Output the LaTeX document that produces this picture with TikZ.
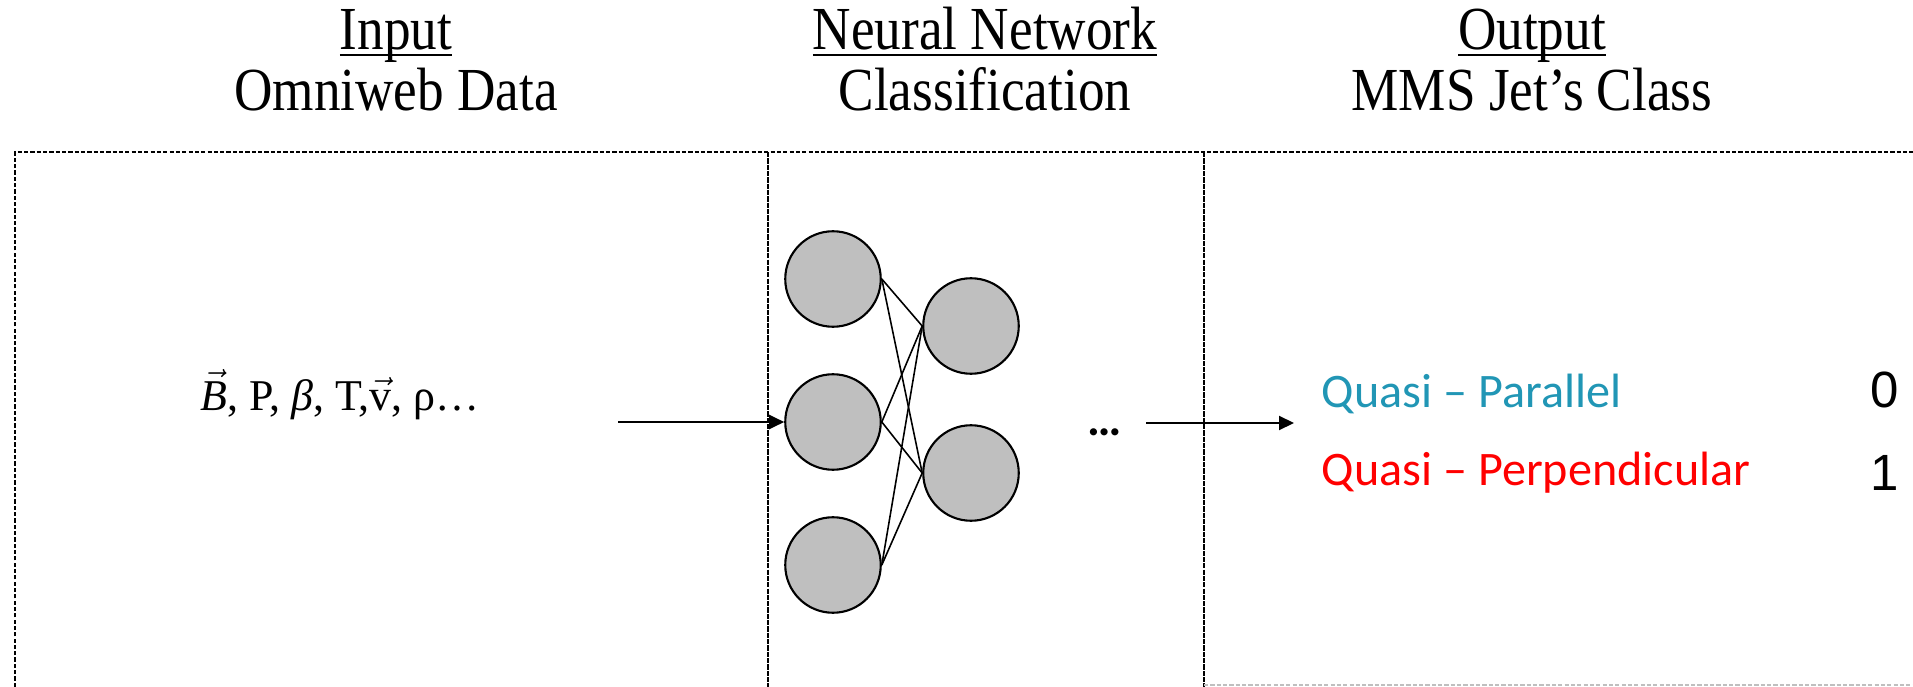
\documentclass[tikz,border=0pt]{standalone}
\usepackage{fontspec}
\setmainfont{Liberation Serif}
\newfontfamily\headfont[FakeStretch=0.87]{Liberation Serif}
\newfontfamily\calibrifont{Carlito}
\newfontfamily\arialfont{Liberation Sans}
\usetikzlibrary{arrows.meta}
\definecolor{paracol}{RGB}{33,150,181}
\newcommand\hdul[1]{\setbox0\hbox{#1}\rlap{\rule[-1.8pt]{\wd0}{0.55pt}}\box0}
\begin{document}
\begin{tikzpicture}
  [
  line width=0.5pt, draw=black,
  neuron/.style={circle, inner sep=0pt, minimum size=9.55mm, draw=black, fill=black!25, line width=0.6pt},
  synapse/.style={line width=0.45pt},
  heading/.style={anchor=base, inner sep=0pt, font=\headfont\fontsize{17.4}{19}\selectfont},
  formula/.style={anchor=base west, inner sep=0pt, font=\fontsize{12.5}{14}\selectfont},
  classtext/.style={anchor=base west, inner sep=0pt, font=\calibrifont\fontsize{13.7}{16}\selectfont},
  digit/.style={anchor=base, inner sep=0pt, font=\arialfont\fontsize{14.5}{16}\selectfont},
  frame/.style={line width=0.45pt, dash pattern=on 1.2pt off 0.6pt},
  divider/.style={line width=0.6pt, dash pattern=on 1.5pt off 0.3pt},
  flow/.style={line width=0.6pt, -{Triangle[length=1.5mm, width=1.4mm]}},
  ]

\useasboundingbox (0,0) rectangle (19.13,-6.87);

% panels
\draw[frame] (0.15,-6.87) -- (0.15,-1.52) -- (19.13,-1.52);
\draw[divider] (7.68,-1.52) -- (7.68,-6.87);
\draw[divider] (12.04,-1.52) -- (12.04,-6.87);
\draw[frame, draw=black!25] (12.04,-6.85) -- (19.13,-6.85);

% headings
\node[heading] (in1) at (3.96,-0.50) {\hdul{Input}};
\node[heading] (in2) at (3.96,-1.10) {Omniweb Data};
\node[heading] (nn1) at (9.85,-0.50) {\hdul{Neural Network}};
\node[heading] (nn2) at (9.85,-1.10) {Classification};
\node[heading] (out1) at (15.32,-0.50) {\hdul{Output}};
\node[heading] (out2) at (15.32,-1.10) {MMS Jet’s Class};

% input
\node[formula] (data) at (2.00,-4.10) {$\vec{\mathit{B}}$, P, \textit{β}, T,$\vec{\mathrm{v}}$, ρ…};

% network
\foreach \i/\y in {1/2.79,2/4.22,3/5.65} {
  \node[neuron] (l\i) at (8.33,-\y) {};
}
\foreach \j/\y in {1/3.26,2/4.73} {
  \node[neuron] (r\j) at (9.71,-\y) {};
}
\foreach \i in {1,2,3} {
  \foreach \j in {1,2} {
    \draw[synapse] (l\i.east) -- (r\j.west);
  }
}
\node[anchor=base, inner sep=0pt, font=\calibrifont\bfseries\fontsize{13.7}{16}\selectfont] (more) at (11.05,-4.35) {…};

\coordinate (infrom) at (6.18,-4.22);
\draw[flow] (infrom) -- (l2);
\coordinate (outfrom) at (11.46,-4.23);
\coordinate (outto) at (12.94,-4.23);
\draw[flow] (outfrom) -- (outto);

% output
\node[classtext, text=paracol] (par) at (13.21,-4.07) {Quasi – Parallel};
\node[classtext, text=red] (perp) at (13.21,-4.85) {Quasi – Perpendicular};
\node[digit] (c0) at (18.85,-4.07) {0};
\node[digit] (c1) at (18.85,-4.90) {1};
\end{tikzpicture}
\end{document}
